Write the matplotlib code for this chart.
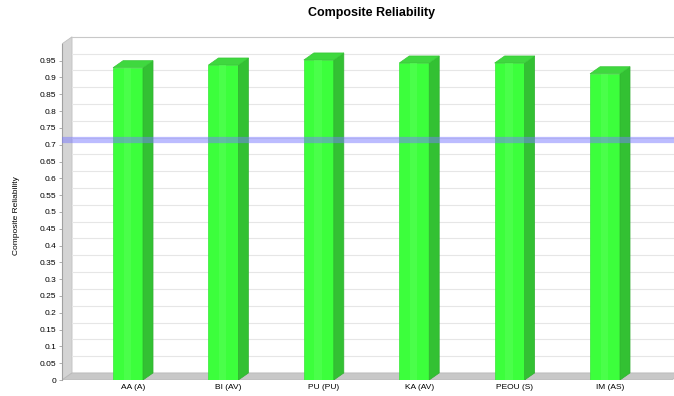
import numpy as np
import matplotlib.pyplot as plt
from matplotlib.patches import Polygon

plt.rcParams['font.family'] = ['Liberation Sans', 'DejaVu Sans']

constructs = ['AA (A)', 'BI (AV)', 'PU (PU)', 'KA (AV)', 'PEOU (S)', 'IM (AS)']
reliability = [0.929, 0.937, 0.952, 0.943, 0.943, 0.911]
threshold = 0.7
yticks = np.round(np.arange(0, 0.96, 0.05), 2)

# 3d look: depth of the bars / walls in data units
dx, dy = 0.105, 0.021
half = 0.157
xl, xr = -0.692, 5.70
ytop = 1.0

fig = plt.figure(figsize=(6.74, 3.96), dpi=100)
ax = fig.add_axes([0.092, 0.0404, 0.908, 0.904])
ax.set_xlim(xl, 5.723)
ax.set_ylim(0, 1.065)

# left wall, floor, back wall edge
ax.add_patch(Polygon([(xl, 0), (xl + dx, dy), (xl + dx, ytop + dy), (xl, ytop)],
                     closed=True, fc='#d4d4d4', ec='#c0c0c0', lw=0.6, zorder=1))
ax.add_patch(Polygon([(xl, 0), (xr, 0), (xr + dx, dy), (xl + dx, dy)],
                     closed=True, fc='#c8c8c8', ec='#b8b8b8', lw=0.6, zorder=1))
ax.plot([xl + dx, xr + dx], [ytop + dy, ytop + dy], color='#c8c8c8', lw=0.8, zorder=1)
ax.plot([xr + dx, xr + dx], [dy, ytop + dy], color='#c8c8c8', lw=0.8, zorder=1)

# grid on the back wall
for t in yticks[1:]:
    ax.plot([xl + dx, xr + dx], [t + dy, t + dy], color='#e6e6e6', lw=0.8, zorder=1)

# bars
for i, v in enumerate(reliability):
    front = [(i - half, 0), (i + half, 0), (i + half, v), (i - half, v)]
    side = [(i + half, 0), (i + half + dx, dy), (i + half + dx, v + dy), (i + half, v)]
    top = [(i - half, v), (i + half, v), (i + half + dx, v + dy), (i - half + dx, v + dy)]
    ax.add_patch(Polygon(front, closed=True, fc='#3cff3c', ec='#36e836', lw=0.5, zorder=3))
    ax.add_patch(Polygon(side, closed=True, fc='#33c133', ec='#30b030', lw=0.5, zorder=3))
    ax.add_patch(Polygon(top, closed=True, fc='#3fd83f', ec='#38c838', lw=0.5, zorder=3))
    # light stripe on the front face
    ax.add_patch(Polygon([(i - half * 0.3, 0), (i + half * 0.2, 0),
                          (i + half * 0.2, v), (i - half * 0.3, v)],
                         closed=True, fc='#55ff55', ec='none', alpha=0.6, zorder=3))

# threshold marker
ax.plot([xl, 5.723], [threshold + dy * 0.6, threshold + dy * 0.6],
        color='#7a7aff', lw=4.5, alpha=0.5, solid_capstyle='butt', zorder=4)

for s in ['top', 'right', 'bottom']:
    ax.spines[s].set_visible(False)
ax.spines['left'].set_color('#a0a0a0')
ax.spines['left'].set_linewidth(0.8)
ax.spines['left'].set_bounds(0, ytop)
ax.set_yticks(yticks)
ax.set_yticklabels([f'{t:g}' for t in yticks], fontsize=6)
ax.tick_params(axis='y', length=2, width=0.6, color='#a0a0a0', pad=2)

ax.set_xticks(np.arange(len(constructs)) + dx / 2)
ax.set_xticklabels(constructs, fontsize=6)
ax.tick_params(axis='x', length=0, pad=3)

ax.set_ylabel('Composite Reliability', fontsize=6)
ax.yaxis.set_label_coords(-0.069, 0.46)

fig.text(0.551, 0.968, 'Composite Reliability', ha='center', va='center',
         fontsize=9, fontweight='bold')

fig.savefig('out.png', dpi=100)
